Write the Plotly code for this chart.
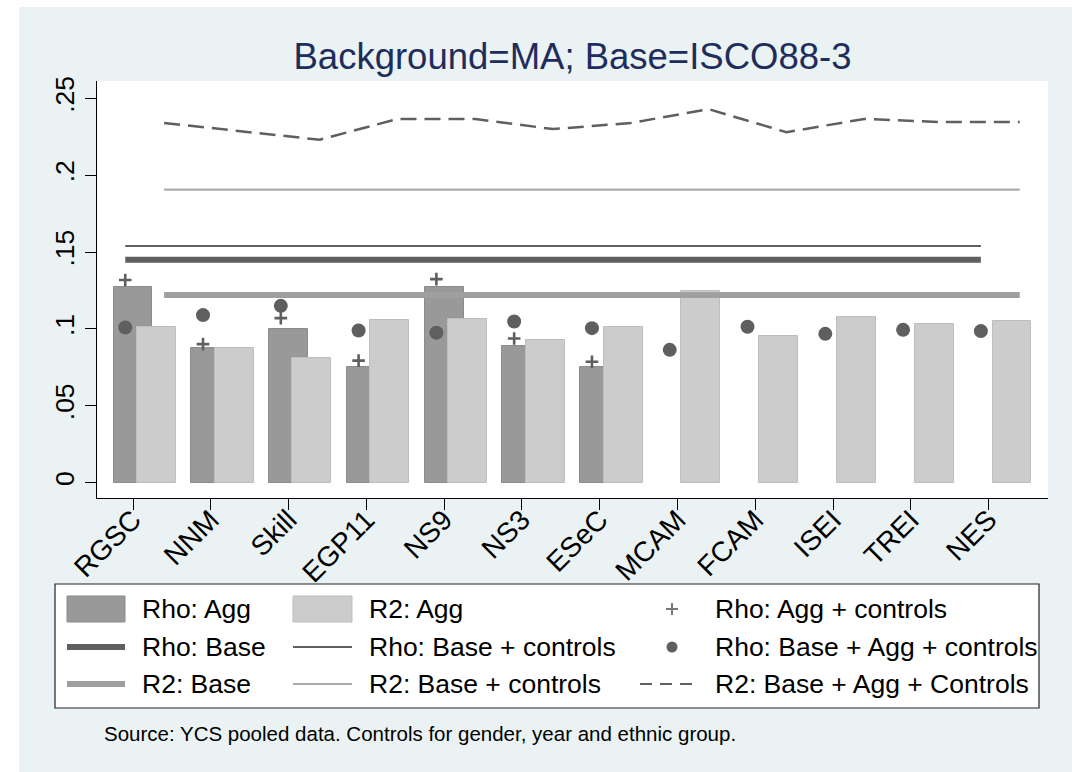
import plotly.graph_objects as go

# ---- data -------------------------------------------------------------
categories = ["RGSC", "NNM", "Skill", "EGP11", "NS9", "NS3", "ESeC",
              "MCAM", "FCAM", "ISEI", "TREI", "NES"]

rho_agg = [0.1274, 0.0875, 0.0999, 0.0755, 0.1274, 0.0892, 0.0751,
           None, None, None, None, None]
r2_agg = [0.1012, 0.0875, 0.0814, 0.1055, 0.1064, 0.0929, 0.1012,
          0.1244, 0.0951, 0.1077, 0.1031, 0.1053]
rho_agg_controls = [0.1318, 0.0901, 0.1070, 0.0794, 0.1324, 0.0938, 0.0786,
                    None, None, None, None, None]
rho_base_agg_controls = [0.1009, 0.1090, 0.1150, 0.0990, 0.0975, 0.1048,
                         0.1005, 0.0864, 0.1014, 0.0968, 0.0994, 0.0986]
r2_base_agg_controls = [0.2340, 0.2285, 0.2231, 0.2366, 0.2366, 0.2300,
                        0.2340, 0.2430, 0.2280, 0.2366, 0.2346, 0.2346]

rho_base = 0.1450
rho_base_controls = 0.1540
r2_base = 0.1220
r2_base_controls = 0.1906

y_tick_values = [0, 0.05, 0.10, 0.15, 0.20, 0.25]
y_tick_labels = ["0", ".05", ".1", ".15", ".2", ".25"]

# ---- styling ------------------------------------------------------------
FONT = "Liberation Sans, Arial, sans-serif"
W, H = 1072, 772
PL, PR, PT, PB = 97, 1048, 81, 498          # plot-area edges in pixels
BG = "rgb(234,242,243)"
DARK = "#5f5f5f"
MID = "#9f9f9f"
LIGHT = "#ababab"
BAR_DARK = "#999999"
BAR_LIGHT = "#cccccc"

n = len(categories)
pos = list(range(1, n + 1))
x_rho = [p - 0.1 for p in pos]     # Rho series sit just left of each category
x_r2 = [p + 0.4 for p in pos]      # R2 lines sit right of each category
x_r2_bar = [p + 0.3 for p in pos]

fig = go.Figure()

fig.add_trace(go.Bar(x=pos, y=rho_agg, width=0.5, name="Rho: Agg",
                     marker=dict(color=BAR_DARK,
                                 line=dict(color="#8c8c8c", width=1))))
fig.add_trace(go.Bar(x=x_r2_bar, y=r2_agg, width=0.5, name="R2: Agg",
                     marker=dict(color=BAR_LIGHT,
                                 line=dict(color="#bdbdbd", width=1))))

fig.add_trace(go.Scatter(x=x_r2, y=[r2_base] * n, mode="lines",
                         name="R2: Base", line=dict(color=MID, width=6)))
fig.add_trace(go.Scatter(x=x_r2, y=[r2_base_controls] * n, mode="lines",
                         name="R2: Base + controls",
                         line=dict(color=LIGHT, width=2.2)))
fig.add_trace(go.Scatter(x=x_rho, y=[rho_base] * n, mode="lines",
                         name="Rho: Base", line=dict(color=DARK, width=6)))
fig.add_trace(go.Scatter(x=x_rho, y=[rho_base_controls] * n, mode="lines",
                         name="Rho: Base + controls",
                         line=dict(color=DARK, width=2)))
fig.add_trace(go.Scatter(x=x_r2, y=r2_base_agg_controls, mode="lines",
                         name="R2: Base + Agg + Controls",
                         line=dict(color=DARK, width=2.5, dash="16px,8px")))
fig.add_trace(go.Scatter(x=x_rho, y=rho_agg_controls, mode="markers",
                         name="Rho: Agg + controls",
                         marker=dict(symbol="cross-thin", size=9,
                                     line=dict(color=DARK, width=2.6))))
fig.add_trace(go.Scatter(x=x_rho, y=rho_base_agg_controls, mode="markers",
                         name="Rho: Base + Agg + controls",
                         marker=dict(symbol="circle", size=14, color=DARK)))


# ---- legend box, drawn in paper space -----------------------------------
def px_x(px):
    return (px - PL) / (PR - PL)


def px_y(py):
    return (PB - py) / (PB - PT)


shapes = [
    # white page margin around the tinted background
    dict(type="rect", xref="paper", yref="paper", layer="below",
         x0=px_x(0), x1=px_x(W), y0=px_y(0), y1=px_y(7),
         fillcolor="white", line=dict(width=0)),
    dict(type="rect", xref="paper", yref="paper", layer="below",
         x0=px_x(0), x1=px_x(19), y0=px_y(0), y1=px_y(H),
         fillcolor="white", line=dict(width=0)),
    # legend frame
    dict(type="rect", xref="paper", yref="paper", layer="below",
         x0=px_x(55), x1=px_x(1039), y0=px_y(584), y1=px_y(708),
         fillcolor="white", line=dict(color="#222222", width=1.2)),
]

ROWS = [609, 647, 684]
COL_SYM = [(67, 125), (293, 352), (640, 697)]
COL_TXT = [140, 367, 713]


def swatch(col, row, color, edge):
    x0, x1 = COL_SYM[col]
    y = ROWS[row]
    return dict(type="rect", xref="paper", yref="paper",
                x0=px_x(x0), x1=px_x(x1), y0=px_y(y + 13), y1=px_y(y - 13),
                fillcolor=color, line=dict(color=edge, width=1))


def stroke(col, row, color, width, dash="solid"):
    x0, x1 = COL_SYM[col]
    y = ROWS[row]
    return dict(type="line", xref="paper", yref="paper",
                x0=px_x(x0), x1=px_x(x1), y0=px_y(y), y1=px_y(y),
                line=dict(color=color, width=width, dash=dash))


cx = 672
shapes += [
    swatch(0, 0, BAR_DARK, "#8c8c8c"),
    swatch(1, 0, BAR_LIGHT, "#bdbdbd"),
    stroke(0, 1, DARK, 6),
    stroke(1, 1, DARK, 2),
    stroke(0, 2, MID, 6),
    stroke(1, 2, LIGHT, 2.2),
    stroke(2, 2, DARK, 2, "12px,8px"),
    # plus symbol
    dict(type="line", xref="paper", yref="paper",
         x0=px_x(cx - 6), x1=px_x(cx + 6), y0=px_y(ROWS[0]), y1=px_y(ROWS[0]),
         line=dict(color="#777777", width=2)),
    dict(type="line", xref="paper", yref="paper",
         x0=px_x(cx), x1=px_x(cx), y0=px_y(ROWS[0] - 6), y1=px_y(ROWS[0] + 6),
         line=dict(color="#777777", width=2)),
    # filled dot
    dict(type="circle", xref="paper", yref="paper",
         x0=px_x(cx - 5.5), x1=px_x(cx + 5.5),
         y0=px_y(ROWS[1] + 5.5), y1=px_y(ROWS[1] - 5.5),
         fillcolor=DARK, line=dict(width=0)),
]

legend_labels = [
    ["Rho: Agg", "R2: Agg", "Rho: Agg + controls"],
    ["Rho: Base", "Rho: Base + controls", "Rho: Base + Agg + controls"],
    ["R2: Base", "R2: Base + controls", "R2: Base + Agg + Controls"],
]

annotations = []
for r, row_labels in enumerate(legend_labels):
    for c, label in enumerate(row_labels):
        annotations.append(dict(
            text=label, xref="paper", yref="paper",
            x=px_x(COL_TXT[c]), y=px_y(ROWS[r]),
            xanchor="left", yanchor="middle", showarrow=False,
            font=dict(family=FONT, size=26.5, color="black")))

annotations.append(dict(
    text="Source: YCS pooled data. Controls for gender, year and ethnic group.",
    xref="paper", yref="paper", x=px_x(102), y=px_y(733),
    xanchor="left", yanchor="middle", showarrow=False,
    font=dict(family=FONT, size=20.5, color="black")))

fig.update_layout(
    width=W, height=H,
    margin=dict(l=PL, r=W - PR, t=PT, b=H - PB),
    paper_bgcolor=BG, plot_bgcolor="white",
    barmode="overlay", bargap=0, showlegend=False,
    font=dict(family=FONT, color="black"),
    title=dict(text="Background=MA; Base=ISCO88-3",
               x=(PL + PR) / 2 / W, xanchor="center",
               y=1 - 56 / H, yanchor="middle",
               font=dict(family=FONT, size=36.5, color="#1e2d5c")),
    shapes=shapes, annotations=annotations,
)

fig.update_xaxes(range=[0.537, 12.763], tickmode="array", tickvals=pos,
                 ticktext=categories, tickangle=-45, ticks="outside",
                 ticklen=11, tickwidth=1.2, tickcolor="black",
                 ticklabelstandoff=-18,
                 showline=True, linecolor="black", linewidth=1.3,
                 showgrid=False, zeroline=False,
                 tickfont=dict(family=FONT, size=28, color="black"))
fig.update_yaxes(range=[-0.01, 0.2613], tickmode="array",
                 tickvals=y_tick_values, ticktext=y_tick_labels,
                 tickangle=-90, ticks="outside", ticklen=11, tickwidth=1.2,
                 tickcolor="black", showline=True, linecolor="black",
                 linewidth=1.3, showgrid=False, zeroline=False,
                 tickfont=dict(family=FONT, size=26.5, color="black"))

fig.write_html("out.html")
